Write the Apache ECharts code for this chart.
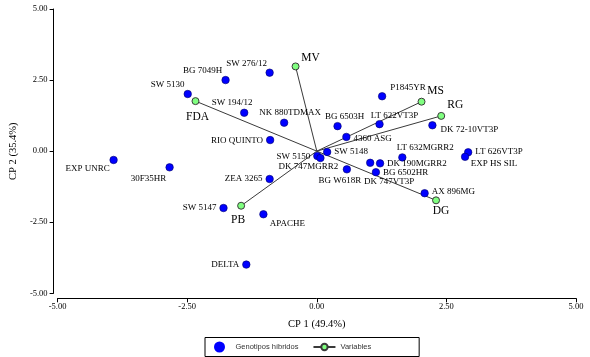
<!DOCTYPE html>
<html>
<head>
<meta charset="utf-8">
<script src="https://cdn.jsdelivr.net/npm/echarts@6/dist/echarts.min.js"></script>
<style>
html,body{margin:0;padding:0;background:#fff;}
#chart{width:590px;height:357px;}
</style>
</head>
<body>
<div id="chart"></div>
<script>
// ---- data ----
const genotypeNames = ['SW 276/12','BG 7049H','SW 5130','SW 194/12','NK 880TDMAX','RIO QUINTO','EXP UNRC','30F35HR','ZEA 3265','SW 5147','APACHE','DELTA','P1845YR','DK 72-10VT3P','LT 622VT3P','BG 6503H','4360 ASG','SW 5148','SW 5150','DK 747MGRR2','LT 632MGRR2','LT 626VT3P','EXP HS SIL','DK 190MGRR2','DK 747VT3P','BG 6502HR','BG W618R','AX 896MG'];
const genotypeCP1 = [-0.91,-1.76,-2.49,-1.40,-0.63,-0.90,-3.92,-2.84,-0.91,-1.80,-1.03,-1.36,1.26,2.23,1.21,0.40,0.57,0.20,0.01,0.07,1.65,2.92,2.86,1.22,1.03,1.14,0.58,2.08];
const genotypeCP2 = [2.76,2.50,2.01,1.35,1.00,0.39,-0.31,-0.57,-0.98,-2.00,-2.22,-3.99,1.93,0.91,0.95,0.88,0.50,-0.03,-0.17,-0.24,-0.22,-0.04,-0.20,-0.43,-0.41,-0.74,-0.64,-1.48];
const variableNames = ['MV','MS','RG','DG','PB','FDA'];
const variableCP1 = [-0.41,2.02,2.40,2.30,-1.46,-2.34];
const variableCP2 = [2.98,1.74,1.24,-1.73,-1.92,1.76];
const axisTicks = [-5, -2.5, 0, 2.5, 5];

// ---- label placement (style only) ----
const genoLabelPlace = {
  'SW 276/12':['inside',-23,-9], 'BG 7049H':['inside',-23,-9], 'SW 5130':['inside',-20,-9],
  'SW 194/12':['inside',-12,-10], 'NK 880TDMAX':['inside',6,-10], 'RIO QUINTO':['left',0,1],
  'EXP UNRC':['inside',-26,9], '30F35HR':['inside',-21,11], 'ZEA 3265':['left',0,0],
  'SW 5147':['left',0,0], 'APACHE':['inside',24,9], 'DELTA':['left',0,0],
  'P1845YR':['inside',26,-9], 'DK 72-10VT3P':['inside',37,4], 'LT 622VT3P':['inside',15,-9],
  'BG 6503H':['inside',7,-9], '4360 ASG':['right',0,2], 'SW 5148':['right',0,0],
  'SW 5150':['left',0,1], 'DK 747MGRR2':['inside',-12,9], 'LT 632MGRR2':['inside',23,-10],
  'LT 626VT3P':['right',0,-1], 'EXP HS SIL':['inside',29,7], 'DK 190MGRR2':['right',0,0],
  'DK 747VT3P':['inside',19,19], 'BG 6502HR':['right',0,0], 'BG W618R':['inside',-7,11],
  'AX 896MG':['right',0,-2]
};
const varLabelOffset = {
  'MV':[15,-8], 'MS':[14,-11], 'RG':[14,-11], 'DG':[5,11], 'PB':[-3,14], 'FDA':[2,16]
};

const serif = 'Liberation Serif';

const genoData = genotypeNames.map((n, i) => {
  const p = genoLabelPlace[n] || ['right',0,0];
  return {
    name: n,
    value: [genotypeCP1[i], genotypeCP2[i]],
    label: { position: p[0], offset: [p[1], p[2]], distance: 3 }
  };
});

const series = [];
variableNames.forEach((n, i) => {
  const o = varLabelOffset[n];
  series.push({
    name: 'Variables',
    type: 'line',
    z: 2,
    animation: false,
    symbol: 'circle',
    symbolSize: 7,
    itemStyle: { color: '#80ff80', borderColor: '#3a3a3a', borderWidth: 1 },
    lineStyle: { color: '#3a3a3a', width: 1 },
    data: [
      { value: [0, 0], symbol: 'none', label: { show: false } },
      { name: n, value: [variableCP1[i], variableCP2[i]],
        label: { show: true, position: 'inside', offset: o, formatter: '{b}',
                 fontFamily: serif, fontSize: 11.5, color: '#000' } }
    ]
  });
});
series.push({
  name: 'Genotipos híbridos',
  type: 'scatter',
  z: 3,
  animation: false,
  symbol: 'circle',
  symbolSize: 7.5,
  itemStyle: { color: '#0000ff', borderColor: '#00006a', borderWidth: 0.6, opacity: 1 },
  label: { show: true, formatter: '{b}', fontFamily: serif, fontSize: 9, color: '#000' },
  data: genoData
});

const axisCommon = {
  type: 'value', min: axisTicks[0], max: axisTicks[axisTicks.length - 1],
  interval: axisTicks[1] - axisTicks[0],
  splitLine: { show: false },
  axisLine: { show: true, onZero: false, lineStyle: { color: '#000', width: 1 } },
  axisTick: { show: true, length: 4, lineStyle: { color: '#000', width: 1 } },
  nameLocation: 'middle',
  nameTextStyle: { fontFamily: serif, fontSize: 10.5, color: '#000' }
};

const option = {
  backgroundColor: '#fff',
  animation: false,
  grid: { left: 57, right: 14, top: 9, bottom: 63.7, containLabel: false },
  xAxis: Object.assign({}, axisCommon, {
    name: 'CP 1 (49.4%)', nameGap: 20, offset: 5,
    axisLabel: { margin: 4, fontFamily: serif, fontSize: 8.5, color: '#000',
                 formatter: v => v.toFixed(2) }
  }),
  yAxis: Object.assign({}, axisCommon, {
    name: 'CP 2 (35.4%)', nameGap: 34, offset: 4,
    axisLabel: { margin: 6, fontFamily: serif, fontSize: 8.5, color: '#000',
                 formatter: v => v.toFixed(2) }
  }),
  legend: {
    data: [
      { name: 'Genotipos híbridos', icon: 'circle',
        itemStyle: { color: '#0000ff', borderColor: '#0000ff', borderWidth: 3 } },
      { name: 'Variables' }
    ],
    left: 205, top: 337.5,
    orient: 'horizontal',
    padding: [4, 48, 4, 9],
    itemWidth: 22, itemHeight: 8, itemGap: 14,
    borderColor: '#000', borderWidth: 1,
    textStyle: { fontFamily: 'Liberation Sans', fontSize: 7.5, color: '#333' },
    selectedMode: false
  },
  series: series
};

const chart = echarts.init(document.getElementById('chart'), null, { renderer: 'canvas' });
chart.setOption(option);
</script>
</body>
</html>
